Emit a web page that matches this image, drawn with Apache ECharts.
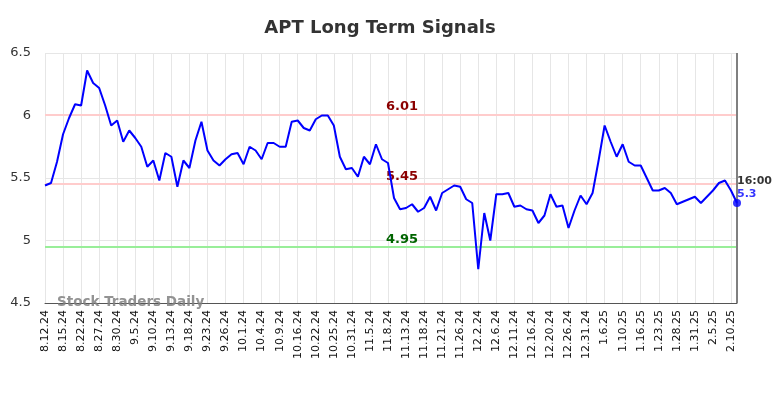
<!DOCTYPE html>
<html>
<head>
<meta charset="utf-8">
<script src="https://cdn.jsdelivr.net/npm/echarts@6/dist/echarts.min.js"></script>
<style>
html,body{margin:0;padding:0;background:#fff;}
#chart{width:784px;height:398px;}
</style>
</head>
<body>
<div id="chart"></div>
<script>
const tickLabels = ['8.12.24','8.15.24','8.22.24','8.27.24','8.30.24','9.5.24','9.10.24','9.13.24','9.18.24','9.23.24','9.26.24','10.1.24','10.4.24','10.9.24','10.16.24','10.22.24','10.25.24','10.31.24','11.5.24','11.8.24','11.13.24','11.18.24','11.21.24','11.26.24','12.2.24','12.6.24','12.11.24','12.16.24','12.20.24','12.26.24','12.31.24','1.6.25','1.10.25','1.16.25','1.23.25','1.28.25','1.31.25','2.5.25','2.10.25'];
const prices = [
 5.44, 5.46, 5.63, 5.85, 5.98, 6.09, 6.08, 6.36, 6.26, 6.22,
 6.08, 5.92, 5.96, 5.79, 5.88, 5.82, 5.75, 5.59, 5.64, 5.48,
 5.70, 5.67, 5.43, 5.64, 5.58, 5.80, 5.95, 5.72, 5.64, 5.60,
 5.65, 5.69, 5.70, 5.61, 5.75, 5.72, 5.65, 5.78, 5.78, 5.75,
 5.75, 5.95, 5.96, 5.90, 5.88, 5.97, 6.00, 6.00, 5.92, 5.67,
 5.57, 5.58, 5.51, 5.67, 5.61, 5.77, 5.65, 5.62, 5.34, 5.25,
 5.26, 5.29, 5.23, 5.26, 5.35, 5.24, 5.38, 5.41, 5.44, 5.43,
 5.33, 5.30, 4.77, 5.22, 5.00, 5.37, 5.37, 5.38, 5.27, 5.28,
 5.25, 5.24, 5.14, 5.20, 5.37, 5.27, 5.28, 5.10, 5.24, 5.36,
 5.29, 5.38, 5.64, 5.92, 5.79, 5.67, 5.77, 5.63, 5.60, 5.60,
 5.50, 5.40, 5.40, 5.42, 5.38, 5.29, 5.31, 5.33, 5.35, 5.30,
 5.35, 5.40, 5.46, 5.48, 5.40, 5.30
];
const levelValues = [6.01, 5.45, 4.95];
const levelLineColors = ['#ffcccc', '#ffcccc', '#99ee99'];
const levelTextColors = ['#8b0000', '#8b0000', '#006400'];
const lastTime = '16:00';
const lastValue = 5.3;

const categories = prices.map((v, i) => i % 3 === 0 && tickLabels[i / 3] ? tickLabels[i / 3] : 'p' + i);
const lastIdx = prices.length - 1;
const FONT = 'DejaVu Sans';

const chart = echarts.init(document.getElementById('chart'), null, {renderer: 'canvas'});
chart.setOption({
  animation: false,
  backgroundColor: '#ffffff',
  title: {
    text: 'APT Long Term Signals',
    left: 375, top: 14, textAlign: 'center',
    textStyle: {fontFamily: FONT, fontSize: 18, fontWeight: 'bold', color: '#333333'}
  },
  grid: {left: 45, right: 47, top: 53, bottom: 95, containLabel: false},
  xAxis: {
    type: 'category', data: categories, boundaryGap: false,
    axisLine: {show: true, lineStyle: {color: '#555555', width: 1}},
    axisTick: {show: false},
    axisLabel: {interval: 2, rotate: 90, fontFamily: FONT, fontSize: 11, color: '#111111', margin: 7},
    splitLine: {show: true, interval: 2, lineStyle: {color: '#e6e6e6', width: 1}}
  },
  yAxis: {
    type: 'value', min: 4.5, max: 6.5, interval: 0.5,
    axisLine: {show: false}, axisTick: {show: false},
    axisLabel: {fontFamily: FONT, fontSize: 13, color: '#333333', margin: 14},
    splitLine: {show: true, lineStyle: {color: '#e6e6e6', width: 1}}
  },
  graphic: [{
    type: 'text', left: 57, top: 295, z: 100,
    style: {text: 'Stock Traders Daily', fontFamily: FONT, fontSize: 13.5, fontWeight: 'bold', fill: 'rgba(128,128,128,0.85)'}
  }],
  series: [{
    type: 'line', data: prices, showSymbol: false, symbol: 'none',
    lineStyle: {color: '#0000ff', width: 2}, z: 5,
    markLine: {
      silent: true, symbol: 'none',
      data: levelValues.map((v, k) => ({
        yAxis: v,
        lineStyle: {color: levelLineColors[k], width: 2, type: 'solid'},
        label: {show: true, position: 'middle', formatter: v.toFixed(2), color: levelTextColors[k],
                fontFamily: FONT, fontSize: 13, fontWeight: 'bold', distance: 1, offset: [11, 0]}
      })).concat([{
        xAxis: lastIdx,
        lineStyle: {color: '#808080', width: 2, type: 'solid'},
        label: {show: false}
      }])
    }
  }, {
    type: 'scatter', data: [[lastIdx, prices[lastIdx]]], symbol: 'circle', symbolSize: 8,
    itemStyle: {color: '#0000ff'}, z: 10,
    label: {
      show: true, position: [4, -24], align: 'left', verticalAlign: 'top',
      formatter: '{a|' + lastTime + '}\n{b|' + lastValue + '}',
      rich: {
        a: {fontFamily: FONT, fontSize: 11, fontWeight: 'bold', color: '#000000', lineHeight: 13},
        b: {fontFamily: FONT, fontSize: 11, fontWeight: 'bold', color: '#0000ff', lineHeight: 13}
      }
    }
  }]
});
</script>
</body>
</html>
